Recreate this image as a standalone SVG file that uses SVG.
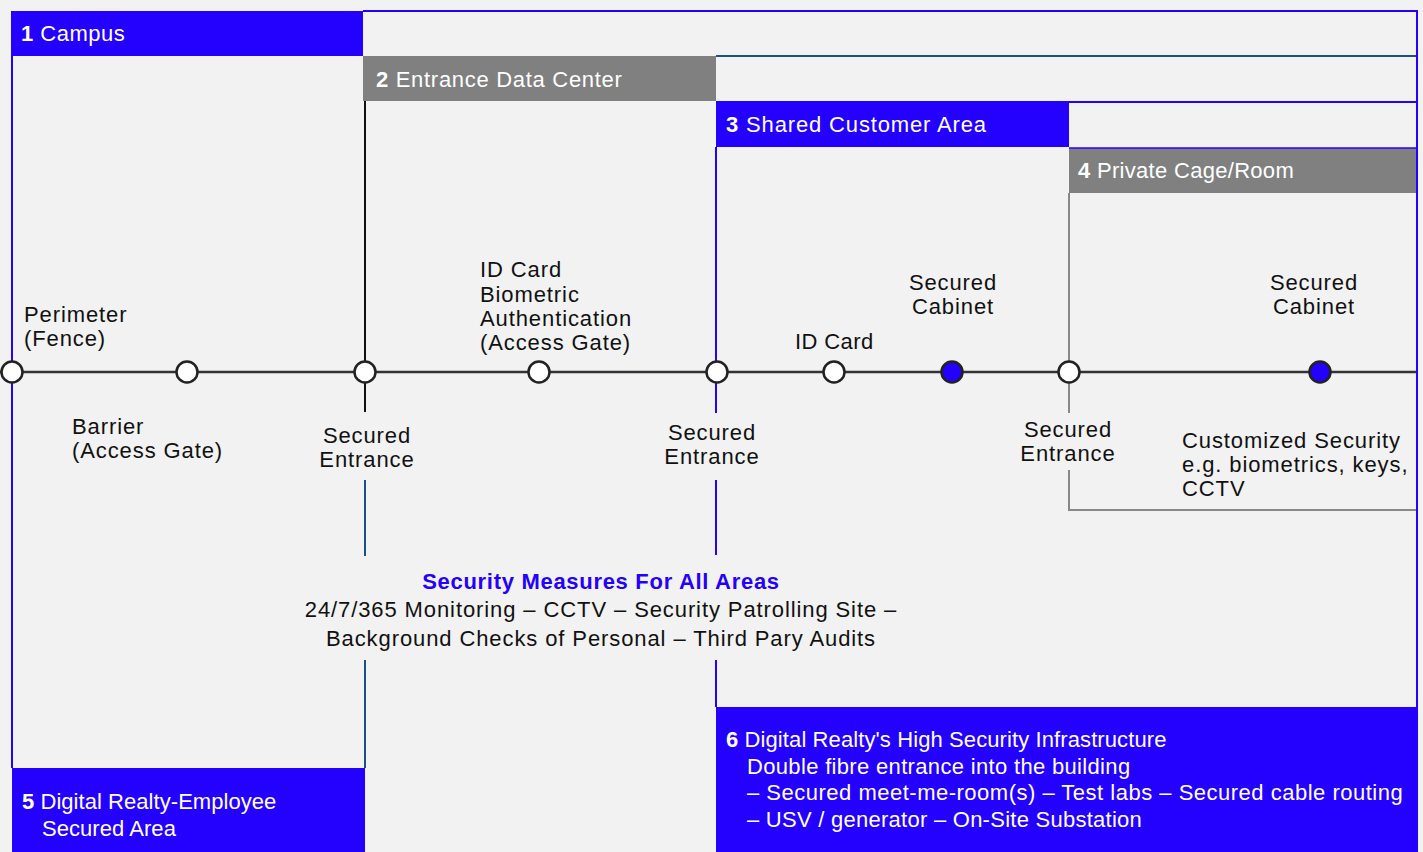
<svg xmlns="http://www.w3.org/2000/svg" width="1423" height="852" viewBox="0 0 1423 852">
<style>
text{font-family:"Liberation Sans",Arial,sans-serif;font-size:22px;fill:#111;letter-spacing:0.9px}
.h{fill:#fff}
.b{font-weight:bold}
.c{text-anchor:middle}
.blue{fill:#2400ff}
.dot{fill:#fff;stroke:#222;stroke-width:2.5}
.dotb{fill:#2400ff;stroke:#222;stroke-width:2.5}
</style>
<rect width="1423" height="852" fill="#f2f2f2"/>
<g id="area1">
<rect x="12" y="11" width="351" height="45" fill="#2400ff"/>
<text class="h" x="21" y="41" style="letter-spacing:0.5px"><tspan class="b">1</tspan> Campus</text>
</g>
<g id="area2">
<rect x="363" y="56" width="353" height="45" fill="#808080"/>
<text class="h" x="376" y="87" style="letter-spacing:0.7px"><tspan class="b">2</tspan> Entrance Data Center</text>
</g>
<g id="area3">
<rect x="716" y="102" width="353" height="45" fill="#2400ff"/>
<text class="h" x="726" y="132" style="letter-spacing:0.85px"><tspan class="b">3</tspan> Shared Customer Area</text>
</g>
<g id="area4">
<rect x="1069" y="148" width="347" height="45" fill="#808080"/>
<text class="h" x="1078" y="178" style="letter-spacing:0.3px"><tspan class="b">4</tspan> Private Cage/Room</text>
</g>
<g id="area5">
<rect x="12" y="768" width="353" height="84" fill="#2400ff"/>
<text class="h" x="22" y="809" style="letter-spacing:0.05px"><tspan class="b">5</tspan> Digital Realty-Employee</text>
<text class="h" x="42" y="836" style="letter-spacing:0.05px">Secured Area</text>
</g>
<g id="area6">
<rect x="716" y="707" width="700" height="145" fill="#2400ff"/>
<text class="h" x="726" y="747" style="letter-spacing:0.1px"><tspan class="b">6</tspan> Digital Realty's High Security Infrastructure</text>
<text class="h" x="747" y="774" style="letter-spacing:0.33px">Double fibre entrance into the building</text>
<text class="h" x="747" y="800" style="letter-spacing:0.5px">– Secured meet-me-room(s) – Test labs – Secured cable routing</text>
<text class="h" x="747" y="827" style="letter-spacing:0.26px">– USV / generator – On-Site Substation</text>
</g>
<g id="connectors" fill="none">
<path d="M363 11H1417V852" stroke="#2400ff" stroke-width="2"/>
<path d="M12 11V768" stroke="#2400ff" stroke-width="2"/>
<path d="M716 56H1416" stroke="#1a4f8a" stroke-width="2"/>
<path d="M716 102H1416" stroke="#2400ff" stroke-width="2"/>
<path d="M1069 148H1416" stroke="#2400ff" stroke-width="1.5"/>
<path d="M365 101V412" stroke="#111" stroke-width="2"/>
<path d="M365 480V556M365 660V768" stroke="#1a4f8a" stroke-width="2"/>
<path d="M716 147V413M716 480V555M716 660V707" stroke="#2400ff" stroke-width="2"/>
<path d="M1069 193V413M1069 470V510H1416" stroke="#888" stroke-width="2"/>
<path d="M0 372H1416" stroke="#333" stroke-width="2.5"/>
</g>
<g id="points">
<circle class="dot" cx="12" cy="372" r="10.5"/>
<circle class="dot" cx="187" cy="372" r="10.5"/>
<circle class="dot" cx="365" cy="372" r="10.5"/>
<circle class="dot" cx="539" cy="372" r="10.5"/>
<circle class="dot" cx="717" cy="372" r="10.5"/>
<circle class="dot" cx="834" cy="372" r="10.5"/>
<circle class="dotb" cx="952" cy="372" r="10.5"/>
<circle class="dot" cx="1069" cy="372" r="10.5"/>
<circle class="dotb" cx="1320" cy="372" r="10.5"/>
</g>
<g id="labels">
<text x="24" y="322">Perimeter</text>
<text x="24" y="346">(Fence)</text>
<text x="72" y="434">Barrier</text>
<text x="72" y="458">(Access Gate)</text>
<text class="c" x="367" y="443">Secured</text>
<text class="c" x="367" y="467">Entrance</text>
<text x="480" y="277">ID Card</text>
<text x="480" y="302">Biometric</text>
<text x="480" y="326">Authentication</text>
<text x="480" y="350">(Access Gate)</text>
<text class="c" x="712" y="440">Secured</text>
<text class="c" x="712" y="464">Entrance</text>
<text x="795" y="349" style="letter-spacing:0.4px">ID Card</text>
<text class="c" x="953" y="290">Secured</text>
<text class="c" x="953" y="314">Cabinet</text>
<text class="c" x="1068" y="437">Secured</text>
<text class="c" x="1068" y="461">Entrance</text>
<text class="c" x="1314" y="290">Secured</text>
<text class="c" x="1314" y="314">Cabinet</text>
<text x="1182" y="448">Customized Security</text>
<text x="1182" y="472">e.g. biometrics, keys,</text>
<text x="1182" y="496">CCTV</text>
<text class="c b blue" x="601" y="589" style="letter-spacing:0.7px">Security Measures For All Areas</text>
<text class="c" x="601" y="617">24/7/365 Monitoring – CCTV – Security Patrolling Site –</text>
<text class="c" x="601" y="646">Background Checks of Personal – Third Pary Audits</text>
</g>
</svg>
